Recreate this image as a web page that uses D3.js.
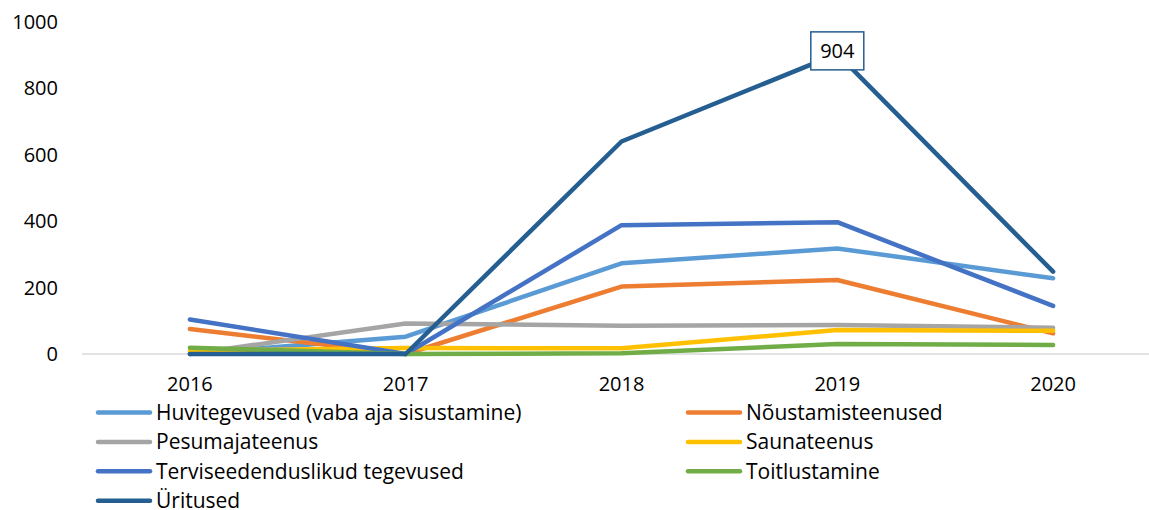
<!DOCTYPE html>
<html lang="et">
  <head>
    <meta charset="utf-8" />
    <title>Teenused 2016-2020</title>
    <script src="https://cdn.jsdelivr.net/npm/d3@7"></script>
    <style>
      body { margin: 0; background: #fff; }
      svg text { font-family: "Open Sans", "Noto Sans", sans-serif; fill: #000; }
    </style>
  </head>
  <body>
    <script>
      var w = 1149;
      var h = 510;

      // data
      var years = ["2016", "2017", "2018", "2019", "2020"];
      var seriesNames = [
        "Huvitegevused (vaba aja sisustamine)",
        "Nõustamisteenused",
        "Pesumajateenus",
        "Saunateenus",
        "Terviseedenduslikud tegevused",
        "Toitlustamine",
        "Üritused"
      ];
      var huvitegevused = [0, 52, 273, 318, 228];
      var noustamine = [75, 0, 203, 223, 62];
      var pesumaja = [0, 92, 85, 87, 79];
      var saun = [10, 18, 17, 72, 70];
      var tervis = [104, 0, 388, 397, 145];
      var toitlustamine = [19, 0, 2, 30, 27];
      var uritused = [0, 0, 640, 904, 248];
      var yTicks = [0, 200, 400, 600, 800, 1000];

      var seriesValues = [huvitegevused, noustamine, pesumaja, saun, tervis, toitlustamine, uritused];
      var colors = ["#5B9BD5", "#ED7D31", "#A5A5A5", "#FFC000", "#4472C4", "#70AD47", "#255E91"];

      var xScale = d3.scalePoint().domain(years).range([82, 1161]).padding(0.5);
      var yScale = d3.scaleLinear().domain([0, 1000]).range([354, 22]);

      var svg = d3.select("body").append("svg").attr("width", w).attr("height", h);

      // x axis line
      svg.append("line")
        .attr("x1", 82).attr("x2", 1161)
        .attr("y1", yScale(0)).attr("y2", yScale(0))
        .attr("stroke", "#d9d9d9").attr("stroke-width", 1.3);

      // y tick labels
      svg.selectAll(".ytick")
        .data(yTicks)
        .enter()
        .append("text")
        .attr("class", "ytick")
        .attr("x", 58)
        .attr("y", function (d) { return yScale(d); })
        .attr("dy", "0.35em")
        .attr("text-anchor", "end")
        .attr("font-size", 20)
        .text(function (d) { return d; });

      // x tick labels
      svg.selectAll(".xtick")
        .data(years)
        .enter()
        .append("text")
        .attr("class", "xtick")
        .attr("x", function (d) { return xScale(d); })
        .attr("y", 384)
        .attr("dy", "0.35em")
        .attr("text-anchor", "middle")
        .attr("font-size", 20)
        .text(function (d) { return d; });

      var line = d3.line()
        .x(function (d, i) { return xScale(years[i]); })
        .y(function (d) { return yScale(d); });

      // draw the lines
      svg.selectAll(".series")
        .data(seriesValues)
        .enter()
        .append("path")
        .attr("class", "series")
        .attr("d", line)
        .attr("fill", "none")
        .attr("stroke", function (d, i) { return colors[i]; })
        .attr("stroke-width", 4.5)
        .attr("stroke-linejoin", "round")
        .attr("stroke-linecap", "round");

      // data label for the peak
      var peakX = xScale("2019");
      var peakY = yScale(uritused[3]);
      var label = svg.append("g").attr("transform", "translate(" + peakX + "," + (peakY - 1) + ")");
      label.append("rect")
        .attr("x", -26.5).attr("y", -21)
        .attr("width", 53).attr("height", 38)
        .attr("fill", "#fff")
        .attr("stroke", "#255E91").attr("stroke-width", 1.5);
      label.append("text")
        .attr("x", 0).attr("y", -2)
        .attr("dy", "0.35em")
        .attr("text-anchor", "middle")
        .attr("font-size", 20)
        .text(uritused[3]);

      // legend, two columns
      var legend = svg.selectAll(".legend")
        .data(seriesNames)
        .enter()
        .append("g")
        .attr("class", "legend")
        .attr("transform", function (d, i) {
          var col = i % 2;
          var row = Math.floor(i / 2);
          return "translate(" + (col === 0 ? 98 : 688) + "," + (412.5 + row * 29.4) + ")";
        });
      legend.append("line")
        .attr("x1", 0).attr("x2", 52)
        .attr("y1", 0).attr("y2", 0)
        .attr("stroke", function (d, i) { return colors[i]; })
        .attr("stroke-width", 4.5)
        .attr("stroke-linecap", "round");
      legend.append("text")
        .attr("x", 58)
        .attr("y", 0)
        .attr("dy", "0.35em")
        .attr("font-size", 21)
        .text(function (d) { return d; });
    </script>
  </body>
</html>
